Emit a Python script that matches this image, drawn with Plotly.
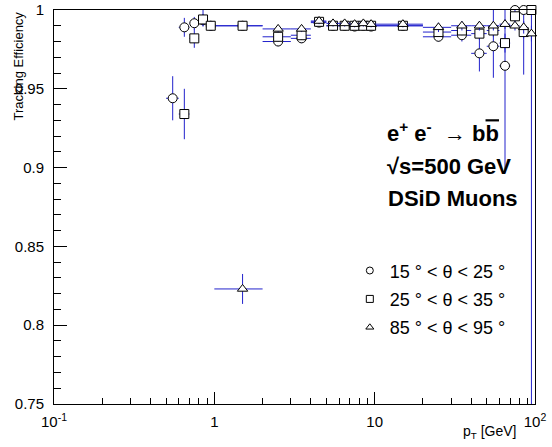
import plotly.graph_objects as go

# ---------------- data ----------------
circle_pt = [0.55, 0.65, 0.75, 0.85, 0.95, 1.5, 2.5, 3.5, 4.5, 5.5, 6.5, 7.5, 8.5, 9.5,
             15, 25, 35, 45, 55, 65, 75, 85]
circle_dpt = [0.05, 0.05, 0.05, 0.05, 0.05, 0.5, 0.5, 0.5, 0.5, 0.5, 0.5, 0.5, 0.5, 0.5,
              5, 5, 5, 5, 5, 5, 5, 5]
circle_eff = [0.944, 0.989, 0.9916, 0.9935, 0.990, 0.990, 0.980, 0.982, 0.992, 0.990, 0.990, 0.9895,
              0.990, 0.9895, 0.990, 0.983, 0.984, 0.9725, 0.977, 0.9646, 1.0, 1.0]
circle_up = [0.014, 0.006, 0.004, 0.004, 0.003, 0.002, 0.003, 0.003, 0.002, 0.002, 0.002, 0.002,
             0.002, 0.002, 0.002, 0.003, 0.004, 0.0105, 0.023, 0.0354, 0.0, 0.0]
circle_lo = [0.014, 0.006, 0.004, 0.004, 0.003, 0.002, 0.003, 0.003, 0.002, 0.002, 0.002, 0.002,
             0.002, 0.002, 0.002, 0.003, 0.004, 0.0115, 0.020, 0.068, 0.010, 0.041]

square_pt = [0.65, 0.75, 0.85, 0.95, 1.5, 2.5, 3.5, 4.5, 5.5, 6.5, 7.5, 8.5, 9.5,
             15, 25, 35, 45, 55, 65, 75, 85, 95]
square_dpt = [0.05, 0.05, 0.05, 0.05, 0.5, 0.5, 0.5, 0.5, 0.5, 0.5, 0.5, 0.5, 0.5,
              5, 5, 5, 5, 5, 5, 5, 5, 5]
square_eff = [0.934, 0.982, 0.994, 0.990, 0.990, 0.983, 0.984, 0.9925, 0.990, 0.990, 0.990, 0.990,
              0.990, 0.990, 0.986, 0.987, 0.985, 0.987, 0.979, 0.996, 0.986, 1.0]
square_up = [0.016, 0.006, 0.006, 0.003, 0.002, 0.003, 0.003, 0.002, 0.002, 0.002, 0.002, 0.002,
             0.002, 0.002, 0.003, 0.003, 0.004, 0.004, 0.006, 0.004, 0.004, 0.0]
square_lo = [0.016, 0.006, 0.004, 0.003, 0.002, 0.003, 0.003, 0.002, 0.002, 0.002, 0.002, 0.002,
             0.002, 0.002, 0.003, 0.003, 0.004, 0.004, 0.006, 0.004, 0.004, 0.25]

tri_pt = [1.5, 2.5, 3.5, 4.5, 5.5, 6.5, 7.5, 8.5, 9.5, 15, 25, 35, 45, 55, 65, 75, 85, 95]
tri_dpt = [0.5, 0.5, 0.5, 0.5, 0.5, 0.5, 0.5, 0.5, 0.5, 5, 5, 5, 5, 5, 5, 5, 5, 5]
tri_eff = [0.823, 0.988, 0.988, 0.993, 0.9915, 0.9915, 0.991, 0.9915, 0.991, 0.991, 0.989, 0.990,
           0.990, 0.990, 0.991, 0.990, 0.989, 0.985]
tri_err = [0.0095, 0.002, 0.002, 0.002, 0.002, 0.002, 0.002, 0.002, 0.002, 0.002, 0.003, 0.003,
           0.003, 0.003, 0.003, 0.003, 0.004, 0.005]

legend_labels = ["15 ° < θ < 25 °", "25 ° < θ < 35 °", "85 ° < θ < 95 °"]
y_ticks = [0.75, 0.8, 0.85, 0.9, 0.95, 1.0]
x_ticks = [0.1, 1, 10, 100]
x_ticktext = ["10<sup>-1</sup>", "1", "10", "10<sup>2</sup>"]
x_minor = [0.2, 0.3, 0.4, 0.5, 0.6, 0.7, 0.8, 0.9, 2, 3, 4, 5, 6, 7, 8, 9,
           20, 30, 40, 50, 60, 70, 80, 90]

# ---------------- style ----------------
FONT = "Liberation Sans, Arial, Helvetica, sans-serif"
ERR = "#2222cc"
W, H = 552, 447
ML, MR, MT, MB = 54, 17, 10, 43

series = [
    ("circle", circle_pt, circle_dpt, circle_eff, circle_up, circle_lo),
    ("square", square_pt, square_dpt, square_eff, square_up, square_lo),
    ("triangle-up", tri_pt, tri_dpt, tri_eff, tri_err, tri_err),
]

fig = go.Figure()
for sym, x, dx, y, up, lo in series:
    fig.add_trace(go.Scatter(
        x=x, y=y, mode="markers", showlegend=False, cliponaxis=False,
        marker=dict(symbol=sym, size=9, color="white",
                    line=dict(color="black", width=1)),
        error_x=dict(type="data", array=dx, color=ERR, thickness=1, width=0),
        error_y=dict(type="data", symmetric=False, array=up, arrayminus=lo,
                     color=ERR, thickness=1, width=0),
    ))

for (sym, *_), lab in zip(series, legend_labels):
    fig.add_trace(go.Scatter(
        x=[None], y=[None], mode="markers", name=lab, legendgroup=lab,
        marker=dict(symbol=sym + "-open", size=7, color="black",
                    line=dict(color="black", width=1)),
    ))

fig.update_layout(
    width=W, height=H,
    margin=dict(l=ML, r=MR, t=MT, b=MB, autoexpand=False),
    paper_bgcolor="white", plot_bgcolor="white",
    font=dict(family=FONT, color="black", size=15),
    legend=dict(x=0.615, y=0.385, xanchor="left", yanchor="top",
                font=dict(size=18, family=FONT), bgcolor="rgba(0,0,0,0)",
                tracegroupgap=2, itemwidth=30),
    xaxis=dict(type="log", range=[-1, 2], tickvals=x_ticks, ticktext=x_ticktext,
               ticks="inside", ticklen=12, tickcolor="black", showline=True,
               linecolor="black", linewidth=1, mirror=True, showgrid=False,
               zeroline=False, tickfont=dict(size=15), ticklabelstandoff=4,
               automargin=False,
               minor=dict(tickvals=x_minor, ticks="inside", ticklen=6,
                          tickcolor="black", showgrid=False)),
    yaxis=dict(range=[0.75, 1.0], tickvals=y_ticks, ticks="inside", ticklen=13,
               tickcolor="black", showline=True, linecolor="black", linewidth=1,
               mirror=True, showgrid=False, zeroline=False, tickfont=dict(size=15),
               ticklabelstandoff=6, automargin=False,
               minor=dict(dtick=0.01, tick0=0.75, ticks="inside", ticklen=7,
                          tickcolor="black", showgrid=False)),
)

pw = W - ML - MR
ph = H - MT - MB

def px(xp):
    return (xp - ML) / pw

def py(yp):
    return 1 - (yp - MT) / ph

ann = [
    dict(text="<b>e<sup>+</sup> e<sup>-</sup>  → b<span style='text-decoration:overline'>b</span></b>",
         x=px(385), y=py(132), size=22),
    dict(text="<b>√s=500 GeV</b>", x=px(385), y=py(166), size=22),
    dict(text="<b>DSiD Muons</b>", x=px(386), y=py(199), size=22),
]
for a in ann:
    fig.add_annotation(text=a["text"], x=a["x"], y=a["y"], xref="paper", yref="paper",
                       xanchor="left", yanchor="middle", showarrow=False,
                       font=dict(size=a["size"], family=FONT, color="black"))

fig.add_annotation(text="Tracking Efficiency", textangle=-90, x=px(18), y=1,
                   xref="paper", yref="paper", xanchor="center", yanchor="top",
                   showarrow=False, font=dict(size=13, family=FONT))
fig.add_annotation(text="p<sub>T</sub> [GeV]", x=px(518), y=py(432),
                   xref="paper", yref="paper", xanchor="right", yanchor="middle",
                   showarrow=False, font=dict(size=14, family=FONT))

fig.write_html("out.html", config={"displayModeBar": False, "staticPlot": True},
               post_script="document.body.style.margin='0';document.body.style.overflow='hidden';")
